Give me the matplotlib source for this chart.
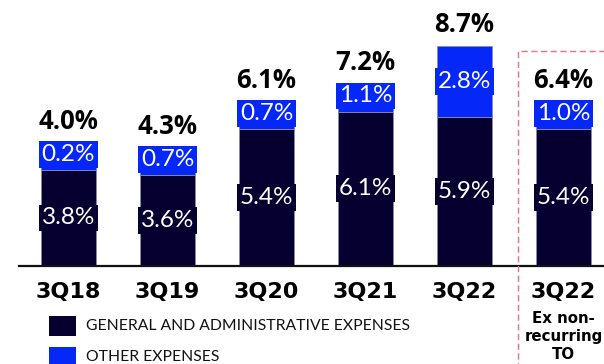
import matplotlib
matplotlib.use("Agg")
import matplotlib.pyplot as plt
from matplotlib.patches import Rectangle

categories = ["3Q18", "3Q19", "3Q20", "3Q21", "3Q22", "3Q22"]
ga_expenses = [3.8, 3.6, 5.4, 6.1, 5.9, 5.4]
other_expenses = [0.2, 0.7, 0.7, 1.1, 2.8, 1.0]
totals = [4.0, 4.3, 6.1, 7.2, 8.7, 6.4]
legend_labels = ["GENERAL AND ADMINISTRATIVE EXPENSES", "OTHER EXPENSES"]
note_label = "Ex non-\nrecurring\nTO"

DARK = "#050030"
BLUE = "#0528f8"
W, H = 604, 364

fig = plt.figure(figsize=(W / 100, H / 100), dpi=100)
fig.patch.set_facecolor("white")


def fx(px):
    return px / W


def fy(py):
    return 1 - py / H


base_px = 266
ax = fig.add_axes([fx(19), fy(base_px), 1 - fx(19), base_px / H])
ax.set_xlim(-0.5, 5.41)
ax.set_ylim(0, base_px / 25.3)
ax.axis("off")
ax.axhline(0, color="#111111", lw=1.6, clip_on=False, zorder=5)

x = list(range(len(categories)))
bw = 0.555
ax.bar(x, ga_expenses, width=bw, color=DARK, edgecolor="#8a88b0", linewidth=0.6, zorder=2)
ax.bar(x, other_expenses, width=bw, bottom=ga_expenses, color=BLUE,
       edgecolor="#8a88b0", linewidth=0.6, zorder=2)

val_font = "Lato"
half_box = 0.6
for i in x:
    g, o, t = ga_expenses[i], other_expenses[i], totals[i]
    # label inside the dark segment
    ax.text(i, g / 2, f"{g:.1f}%", ha="center", va="center", color="white",
            fontsize=17.5, family=val_font, zorder=4,
            bbox=dict(boxstyle="square,pad=0.12", fc=DARK, ec="none"))
    # label for the blue segment, kept above the dark bar
    oc = g + max(o / 2, half_box + 0.02)
    ax.text(i, oc, f"{o:.1f}%", ha="center", va="center", color="white",
            fontsize=17.5, family=val_font, zorder=4,
            bbox=dict(boxstyle="square,pad=0.12", fc=BLUE, ec="none"))
    ty = max(t + 0.85, oc + 1.3)
    ax.text(i, ty, f"{t:.1f}%", ha="center", va="center", color="black",
            fontsize=18.5, fontweight="bold", family="Open Sans", zorder=4)
    ax.annotate(categories[i], xy=(i, 0), xycoords="data",
                xytext=(0, -19), textcoords="offset points", ha="center", va="center",
                fontsize=16, fontweight="bold", family="DejaVu Sans", annotation_clip=False)

ax.annotate(note_label, xy=(5, 0), xycoords="data", xytext=(0, -51),
            textcoords="offset points", ha="center", va="center", fontsize=10.8,
            fontweight="bold", family="DejaVu Sans", linespacing=1.25,
            annotation_clip=False)

# dashed frame around the adjusted quarter
frame = Rectangle((fx(518), fy(H + 20)), fx(W + 20 - 518), (H + 20 - 51) / H,
                  transform=fig.transFigure, fill=False, ec="#f07080", lw=1.0,
                  ls=(0, (4.5, 2.5)), clip_on=False)
fig.patches.append(frame)

# legend
for k, (lab, col) in enumerate(zip(legend_labels, [DARK, BLUE])):
    top = 316 + k * 31
    fig.patches.append(Rectangle((fx(49), fy(top + 20)), fx(27), 20 / H,
                                 transform=fig.transFigure, fc=col, ec="none"))
    fig.text(fx(86), fy(top + 10), lab, ha="left", va="center", fontsize=11.3,
             family=val_font, color="#111111")

fig.savefig("out.png", dpi=100)
